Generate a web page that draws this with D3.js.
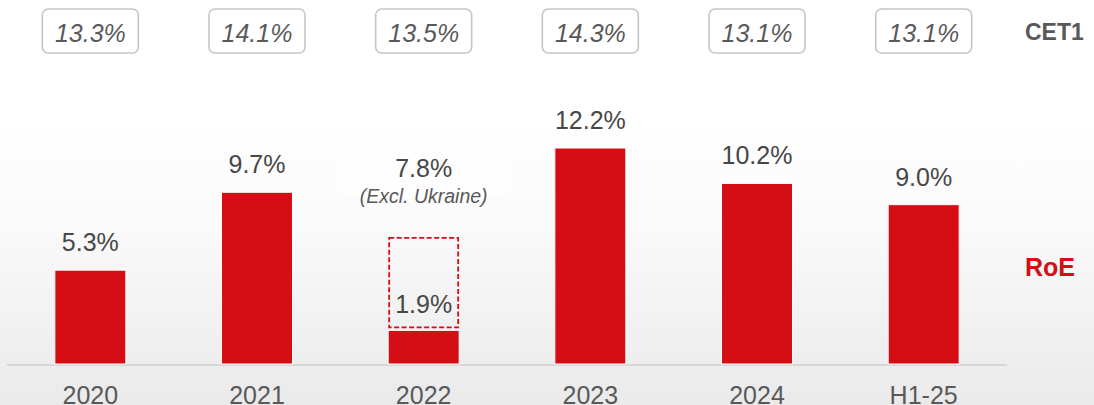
<!DOCTYPE html>
<html>
<head>
<meta charset="utf-8">
<script src="https://cdn.jsdelivr.net/npm/d3@7"></script>
<style>
  body { margin: 0; background: #fff; }
  text { font-family: "Liberation Sans", Arial, sans-serif; }
</style>
</head>
<body>
<script>
var w = 1094;
var h = 405;

// chart data
var periods = ["2020", "2021", "2022", "2023", "2024", "H1-25"];
var roe = [5.3, 9.7, 1.9, 12.2, 10.2, 9.0];
var cet1 = [13.3, 14.1, 13.5, 14.3, 13.1, 13.1];
var roeExclUkraine = [null, null, 7.8, null, null, null];

var red = "#d50d15";

var svg = d3.select("body").append("svg")
  .attr("width", w)
  .attr("height", h);

// soft grey background fading from white
var grad = svg.append("defs").append("linearGradient")
  .attr("id", "bg")
  .attr("x1", 0).attr("y1", 0).attr("x2", 0).attr("y2", 1);
grad.append("stop").attr("offset", "0%").attr("stop-color", "#ffffff");
grad.append("stop").attr("offset", "30%").attr("stop-color", "#ffffff");
grad.append("stop").attr("offset", "55%").attr("stop-color", "#fafafa");
grad.append("stop").attr("offset", "100%").attr("stop-color", "#eaeaea");

svg.append("rect")
  .attr("width", w)
  .attr("height", h)
  .attr("fill", "url(#bg)");

var x = d3.scaleBand()
  .domain(periods)
  .range([7, 1007])
  .paddingInner(0.574)
  .paddingOuter(0.287);

var baseY = 364;
var y = d3.scaleLinear()
  .domain([0, 12.2])
  .range([baseY, 148]);

var fmt = function(v) { return v.toFixed(1) + "%"; };

var rows = periods.map(function(p, i) {
  return { period: p, roe: roe[i], cet1: cet1[i], excl: roeExclUkraine[i] };
});

// baseline
svg.append("line")
  .attr("x1", 7).attr("x2", 1007)
  .attr("y1", baseY + 1).attr("y2", baseY + 1)
  .attr("stroke", "#d6d6d6")
  .attr("stroke-width", 2);

// RoE bars
svg.selectAll("rect.bar")
  .data(rows)
  .enter().append("rect")
  .attr("class", "bar")
  .attr("x", d => x(d.period))
  .attr("y", d => y(d.roe))
  .attr("width", x.bandwidth())
  .attr("height", d => baseY - y(d.roe))
  .attr("fill", red)
  .attr("stroke", "#fff")
  .attr("stroke-width", 1);

// value labels (plain bars)
svg.selectAll("text.val")
  .data(rows.filter(d => d.excl == null))
  .enter().append("text")
  .attr("class", "val")
  .attr("x", d => x(d.period) + x.bandwidth() / 2)
  .attr("y", d => y(d.roe) - 19)
  .attr("text-anchor", "middle")
  .attr("font-size", 25)
  .attr("fill", "#474747")
  .text(d => fmt(d.roe));

// 2022: dashed box for the figure excluding Ukraine
var excl = rows.filter(d => d.excl != null);
var exclG = svg.selectAll("g.excl")
  .data(excl)
  .enter().append("g")
  .attr("class", "excl");

exclG.append("rect")
  .attr("x", d => x(d.period) + 1)
  .attr("y", d => y(d.excl) + 12)
  .attr("width", x.bandwidth() - 2)
  .attr("height", d => (y(d.roe) - 3) - (y(d.excl) + 12))
  .attr("fill", "none")
  .attr("stroke", red)
  .attr("stroke-width", 1.8)
  .attr("stroke-dasharray", "5,2.5");

exclG.append("text")
  .attr("x", d => x(d.period) + x.bandwidth() / 2)
  .attr("y", d => y(d.roe) - 17)
  .attr("text-anchor", "middle")
  .attr("font-size", 25)
  .attr("fill", "#474747")
  .text(d => fmt(d.roe));

exclG.append("rect")
  .attr("x", d => x(d.period) + x.bandwidth() / 2 - 87)
  .attr("y", d => y(d.excl) - 70)
  .attr("width", 174)
  .attr("height", 42)
  .attr("fill", "#fff")
  .attr("opacity", 0.5);

exclG.append("text")
  .attr("x", d => x(d.period) + x.bandwidth() / 2)
  .attr("y", d => y(d.excl) - 49)
  .attr("text-anchor", "middle")
  .attr("font-size", 25)
  .attr("fill", "#474747")
  .text(d => fmt(d.excl));

exclG.append("text")
  .attr("x", d => x(d.period) + x.bandwidth() / 2)
  .attr("y", d => y(d.excl) - 23)
  .attr("text-anchor", "middle")
  .attr("font-size", 19.5)
  .attr("font-style", "italic")
  .attr("fill", "#595959")
  .text("(Excl. Ukraine)");

// period labels
svg.selectAll("text.period")
  .data(periods)
  .enter().append("text")
  .attr("class", "period")
  .attr("x", d => x(d) + x.bandwidth() / 2)
  .attr("y", 404)
  .attr("text-anchor", "middle")
  .attr("font-size", 25)
  .attr("fill", "#595959")
  .text(d => d);

// CET1 boxes
var boxW = 96, boxH = 44;
var cetG = svg.selectAll("g.cet")
  .data(rows)
  .enter().append("g")
  .attr("class", "cet")
  .attr("transform", d => "translate(" + [x(d.period) + x.bandwidth() / 2, 9] + ")");

cetG.append("rect")
  .attr("x", -boxW / 2)
  .attr("width", boxW)
  .attr("height", boxH)
  .attr("rx", 6)
  .attr("fill", "#fff")
  .attr("stroke", "#c6c6c6")
  .attr("stroke-width", 1.6);

cetG.append("text")
  .attr("y", 33)
  .attr("text-anchor", "middle")
  .attr("font-size", 25)
  .attr("font-style", "italic")
  .attr("fill", "#595959")
  .text(d => fmt(d.cet1));

// row titles
svg.append("text")
  .attr("x", 1025).attr("y", 40)
  .attr("font-size", 23)
  .attr("font-weight", "bold")
  .attr("fill", "#595959")
  .text("CET1");

svg.append("text")
  .attr("x", 1025).attr("y", 276)
  .attr("font-size", 25)
  .attr("font-weight", "bold")
  .attr("fill", red)
  .text("RoE");
</script>
</body>
</html>
